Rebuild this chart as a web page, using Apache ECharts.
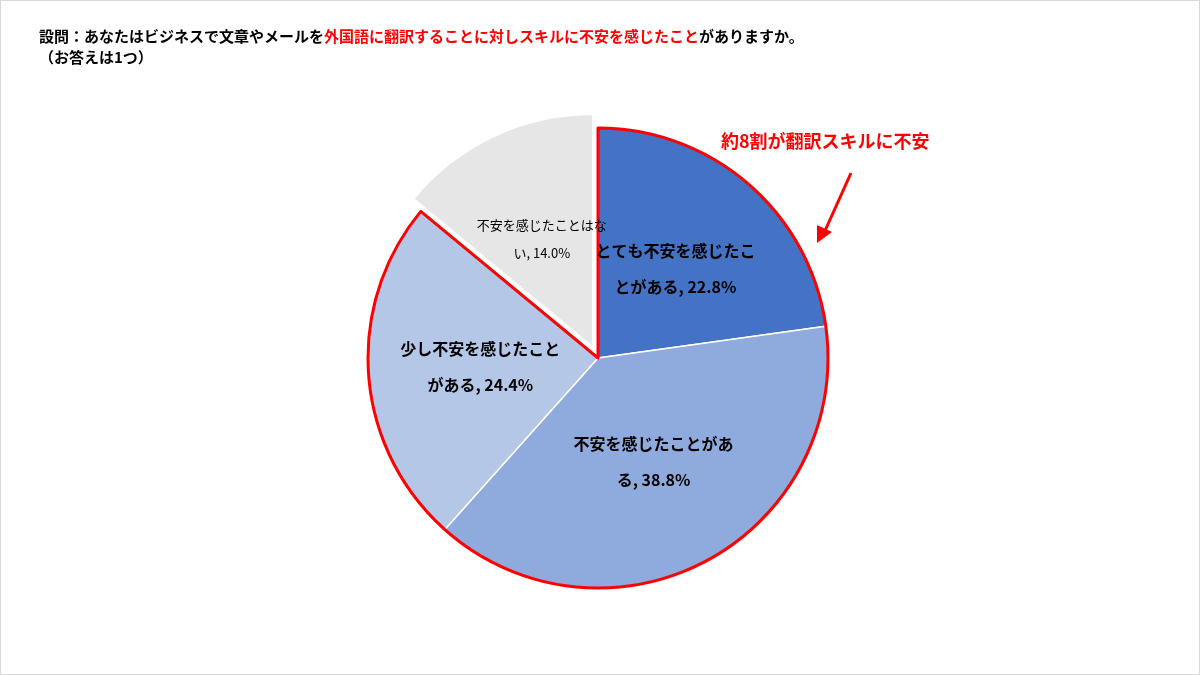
<!DOCTYPE html>
<html><head><meta charset="utf-8">
<script src="https://cdn.jsdelivr.net/npm/echarts@6/dist/echarts.min.js"></script>
<style>html,body{margin:0;padding:0;background:#fff}#c{width:1200px;height:675px;box-sizing:border-box;border:1px solid #d9d9d9}</style>
</head><body><div id="c"></div>
<script>
const categories = ['とても不安を感じたことがある','不安を感じたことがある','少し不安を感じたことがある','不安を感じたことはない'];
const labelTexts = ['とても不安を感じたこ\nとがある, 22.8%','不安を感じたことがあ\nる, 38.8%','少し不安を感じたこと\nがある, 24.4%','不安を感じたことはな\nい, 14.0%'];
const values = [22.8, 38.8, 24.4, 14.0];
const colors = ['#4472C4','#8FAADC','#B4C7E7','#E7E6E6'];
const anxiousShare = values[0] + values[1] + values[2];
const font = '"Noto Sans CJK JP","Noto Sans",sans-serif';
const chart = echarts.init(document.getElementById('c'));
const center = ['597', '357'];
chart.setOption({
  animation: false,
  graphic: [
    {type:'text', left:38, top:28, style:{text:'{b|設問：あなたはビジネスで文章やメールを}{r|外国語に翻訳することに対しスキルに不安を感じたこと}{b|がありますか。}\n{b|（お答えは1つ）}',
      rich:{b:{fill:'#000',fontWeight:'bold',fontSize:15,fontFamily:font,lineHeight:21},r:{fill:'#FF0000',fontWeight:'bold',fontSize:15,fontFamily:font,lineHeight:21}}}},
    {type:'text', left:720, top:131, style:{text:'約8割が翻訳スキルに不安', fill:'#FF0000', fontWeight:'bold', fontSize:18, fontFamily:font}},
    {type:'line', shape:{x1:850,y1:172,x2:823,y2:232}, style:{stroke:'#FF0000',lineWidth:3}},
    {type:'polygon', shape:{points:[[816,242],[816,224],[831,231]]}, style:{fill:'#FF0000'}}
  ],
  series: [
    {type:'pie', radius:230, center:center, startAngle:90, clockwise:true,
     selectedMode:'single', selectedOffset:14, silent:true,
     labelLine:{show:false},
     data: categories.map((n,i)=>({name:n, value:values[i], selected:i===3,
        itemStyle:{color:colors[i], borderColor:'#fff', borderWidth:i===3?0:1.5},
        label:{show:true, position:'inside', formatter:labelTexts[i], color:'#000',
          fontFamily:font, fontWeight:i===3?'normal':'bold', fontSize:i===3?13:16, lineHeight:i===3?28:36,
          offset: i===3?[-18,-10]:[0,0]}}))
    },
    {type:'pie', radius:230, center:center, startAngle:90, clockwise:true, silent:true,
     label:{show:false}, labelLine:{show:false},
     data:[
       {name:'不安あり', value:anxiousShare, itemStyle:{color:'rgba(0,0,0,0)', borderColor:'#FF0000', borderWidth:3}},
       {name:'なし', value:values[3], itemStyle:{color:'rgba(0,0,0,0)', borderWidth:0}}
     ]}
  ]
});
</script></body></html>
